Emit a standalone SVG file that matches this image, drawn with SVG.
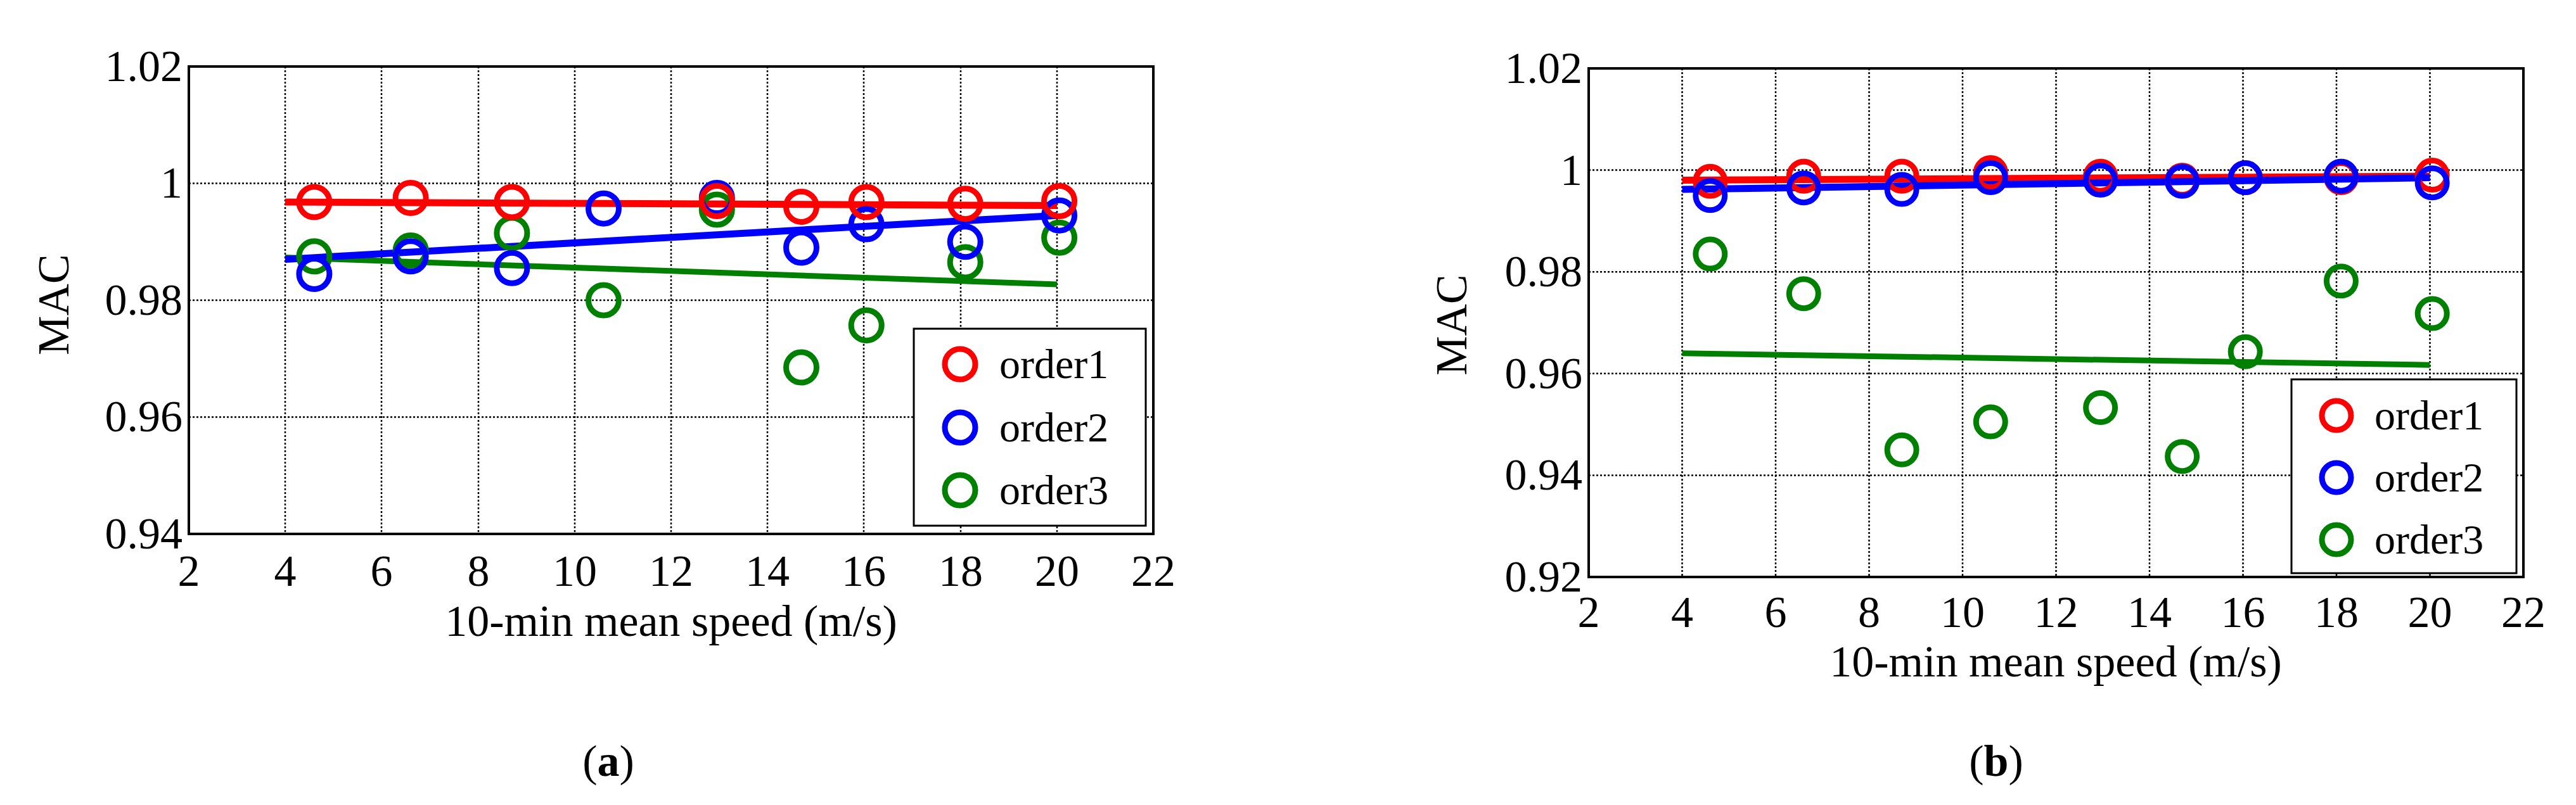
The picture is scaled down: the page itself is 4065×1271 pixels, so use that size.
<svg xmlns="http://www.w3.org/2000/svg" width="4065" height="1271" viewBox="0 0 4065 1271" font-family="'Liberation Serif','DejaVu Serif',serif">
<style>
text{font-family:"Liberation Serif","DejaVu Serif",serif;fill:#000}
.t{font-size:70px}.tl{font-size:66px}
.g{stroke:#000;stroke-width:2.5;stroke-dasharray:3 3;fill:none}
.ax{stroke:#000;stroke-width:4;fill:none}
.r{stroke:#ff0000;fill:none;stroke-width:9}
.b{stroke:#0000ff;fill:none;stroke-width:9}
.n{stroke:#008000;fill:none;stroke-width:9}
.lr{stroke:#ff0000;stroke-width:11}.lb{stroke:#0000ff;stroke-width:11}.ln{stroke:#008000;stroke-width:9}
</style>
<rect width="4065" height="1271" fill="#fff"/>
<g id="plot-a">
<path class="g" d="M450 105V843M602 105V843M755 105V843M907 105V843M1059 105V843M1211 105V843M1363 105V843M1516 105V843M1668 105V843M298 289.5H1820M298 474H1820M298 658.5H1820"/>
<rect class="ax" x="298" y="105" width="1522" height="738"/>
<g class="t" text-anchor="end">
<text x="288" y="128">1.02</text><text x="288" y="312">1</text><text x="288" y="497">0.98</text><text x="288" y="681">0.96</text><text x="288" y="866">0.94</text>
</g>
<g class="t" text-anchor="middle">
<text x="298" y="925">2</text><text x="450" y="925">4</text><text x="602" y="925">6</text><text x="755" y="925">8</text><text x="907" y="925">10</text><text x="1059" y="925">12</text><text x="1211" y="925">14</text><text x="1363" y="925">16</text><text x="1516" y="925">18</text><text x="1668" y="925">20</text><text x="1820" y="925">22</text>
<text x="1059" y="1004">10-min mean speed (m/s)</text>
<text x="86" y="481" transform="rotate(-90 86 481)" dy="22">MAC</text>
<text x="960" y="1225">(<tspan font-weight="bold">a</tspan>)</text>
</g>
<line class="ln" x1="450" y1="406.6" x2="1668" y2="449"/>
<line class="lb" x1="450" y1="409.4" x2="1668" y2="340.2"/>
<line class="lr" x1="450" y1="319" x2="1668" y2="324.6"/>
<g class="n"><circle cx="495.9" cy="404.8" r="24"/><circle cx="648.1" cy="395.6" r="24"/><circle cx="807.9" cy="367.9" r="24"/><circle cx="952.5" cy="474" r="24"/><circle cx="1131.3" cy="331" r="24"/><circle cx="1264.5" cy="580.1" r="24"/><circle cx="1367.2" cy="513.7" r="24"/><circle cx="1523.2" cy="414" r="24"/><circle cx="1671.6" cy="375.3" r="24"/></g>
<g class="b"><circle cx="495.9" cy="432.5" r="24"/><circle cx="648.1" cy="404.8" r="24"/><circle cx="807.9" cy="423.3" r="24"/><circle cx="952.5" cy="329.2" r="24"/><circle cx="1131.3" cy="312.6" r="24"/><circle cx="1264.5" cy="391" r="24"/><circle cx="1367.2" cy="354.1" r="24"/><circle cx="1523.2" cy="381.8" r="24"/><circle cx="1671.6" cy="340.2" r="24"/></g>
<g class="r"><circle cx="495.9" cy="319" r="24"/><circle cx="648.1" cy="312.6" r="24"/><circle cx="807.9" cy="319" r="24"/><circle cx="1131.3" cy="317.5" r="24"/><circle cx="1264.5" cy="326.4" r="24"/><circle cx="1367.2" cy="319" r="24"/><circle cx="1523.2" cy="321.8" r="24"/><circle cx="1671.6" cy="317.5" r="24"/></g>
<g id="legend-a">
<rect x="1442" y="519" width="366" height="311" fill="#fff" stroke="#000" stroke-width="3"/>
<circle class="r" cx="1515" cy="575" r="24"/><circle class="b" cx="1515" cy="675" r="24"/><circle class="n" cx="1515" cy="774" r="24"/>
<text class="tl" x="1577" y="597">order1</text><text class="tl" x="1577" y="697">order2</text><text class="tl" x="1577" y="796">order3</text>
</g>
</g>
<g id="plot-b">
<path class="g" d="M2654.5 108V911M2802 108V911M2949.5 108V911M3097 108V911M3244.5 108V911M3392 108V911M3539.5 108V911M3687 108V911M3834.5 108V911M2507 268.6H3982M2507 429.2H3982M2507 589.8H3982M2507 750.4H3982"/>
<rect class="ax" x="2507" y="108" width="1475" height="803"/>
<g class="t" text-anchor="end">
<text x="2497" y="131">1.02</text><text x="2497" y="292">1</text><text x="2497" y="452">0.98</text><text x="2497" y="613">0.96</text><text x="2497" y="773">0.94</text><text x="2497" y="934">0.92</text>
</g>
<g class="t" text-anchor="middle">
<text x="2507" y="990">2</text><text x="2654.5" y="990">4</text><text x="2802" y="990">6</text><text x="2949.5" y="990">8</text><text x="3097" y="990">10</text><text x="3244.5" y="990">12</text><text x="3392" y="990">14</text><text x="3539.5" y="990">16</text><text x="3687" y="990">18</text><text x="3834.5" y="990">20</text><text x="3982" y="990">22</text>
<text x="3244" y="1068">10-min mean speed (m/s)</text>
<text x="2292" y="513" transform="rotate(-90 2292 513)" dy="22">MAC</text>
<text x="3150" y="1225">(<tspan font-weight="bold">b</tspan>)</text>
</g>
<line class="ln" x1="2654.5" y1="557.7" x2="3834.5" y2="576.2"/>
<line class="lr" x1="2654.5" y1="284.6" x2="3834.5" y2="278.2"/>
<line class="lb" x1="2654.5" y1="299.1" x2="3834.5" y2="280.6"/>
<g class="n"><circle cx="2698.8" cy="401.1" r="23"/><circle cx="2846.3" cy="463.7" r="23"/><circle cx="3001.1" cy="710.3" r="23"/><circle cx="3141.3" cy="666.1" r="23"/><circle cx="3314.6" cy="643.6" r="23"/><circle cx="3443.6" cy="720.7" r="23"/><circle cx="3543.2" cy="555.3" r="23"/><circle cx="3694.4" cy="443.7" r="23"/><circle cx="3838.2" cy="495.1" r="23"/></g>
<g class="r"><circle cx="2698.8" cy="286.3" r="23"/><circle cx="2846.3" cy="278.2" r="23"/><circle cx="3001.1" cy="278.2" r="23"/><circle cx="3141.3" cy="272.6" r="23"/><circle cx="3314.6" cy="278.2" r="23"/><circle cx="3443.6" cy="284.6" r="23"/><circle cx="3543.2" cy="280.6" r="23"/><circle cx="3694.4" cy="280.6" r="23"/><circle cx="3838.2" cy="276.6" r="23"/></g>
<g class="b"><circle cx="2698.8" cy="308.8" r="23"/><circle cx="2846.3" cy="296.7" r="23"/><circle cx="3001.1" cy="299.1" r="23"/><circle cx="3141.3" cy="280.6" r="23"/><circle cx="3314.6" cy="284.6" r="23"/><circle cx="3443.6" cy="286.3" r="23"/><circle cx="3543.2" cy="280.6" r="23"/><circle cx="3694.4" cy="278.2" r="23"/><circle cx="3838.2" cy="288.7" r="23"/></g>
<g id="legend-b">
<rect x="3616" y="599" width="355" height="306" fill="#fff" stroke="#000" stroke-width="3"/>
<circle class="r" cx="3687" cy="656" r="23"/><circle class="b" cx="3687" cy="754" r="23"/><circle class="n" cx="3687" cy="852" r="23"/>
<text class="tl" x="3747" y="678">order1</text><text class="tl" x="3747" y="776">order2</text><text class="tl" x="3747" y="874">order3</text>
</g>
</g>
</svg>
